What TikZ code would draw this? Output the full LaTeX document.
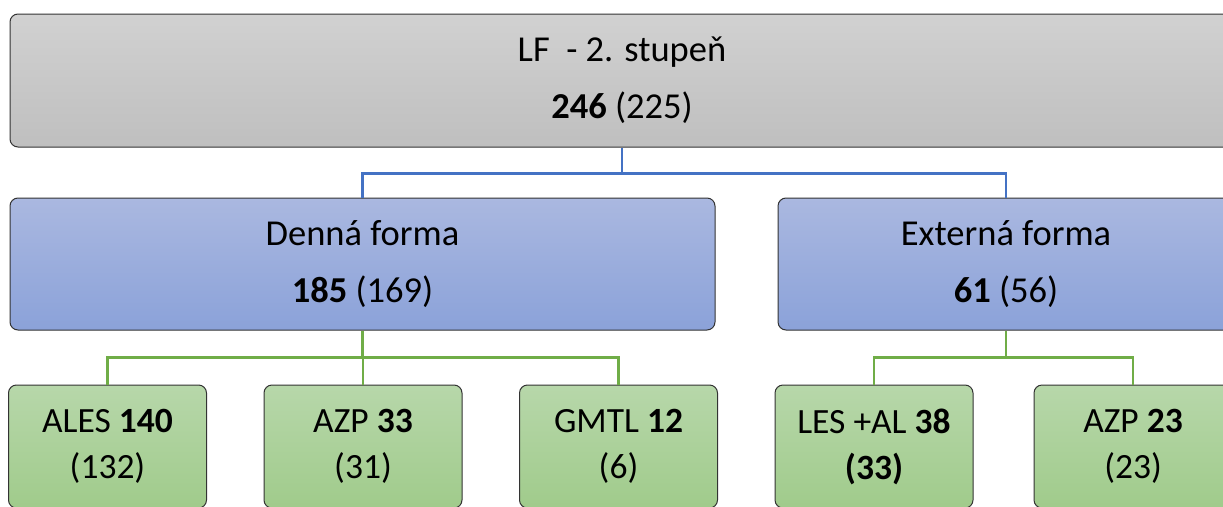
\documentclass[tikz,border=0pt]{standalone}
\usepackage{fontspec}
\setmainfont{Carlito}
\definecolor{boxGrayTop}{RGB}{209, 209, 209}
\definecolor{boxGrayBot}{RGB}{191, 191, 191}
\definecolor{boxBlueTop}{RGB}{170, 184, 224}
\definecolor{boxBlueBot}{RGB}{139, 162, 217}
\definecolor{boxGreenTop}{RGB}{183, 215, 170}
\definecolor{boxGreenBot}{RGB}{160, 203, 139}
\definecolor{lineBlue}{RGB}{68, 114, 196}
\definecolor{lineGreen}{RGB}{112, 173, 71}
\usetikzlibrary{positioning}

\begin{document}
\begin{tikzpicture}[x=1pt, y=-1pt,
    orgbox/.style={rectangle, rounded corners=8pt, draw=black!80, line width=1pt, align=center, inner sep=0pt},
    headbox/.style={orgbox, top color=boxGrayTop, bottom color=boxGrayBot, minimum height=133pt, font=\fontsize{36.5}{57}\selectfont},
    formbox/.style={orgbox, top color=boxBlueTop, bottom color=boxBlueBot, minimum height=132pt, font=\fontsize{36.5}{57}\selectfont},
    progbox/.style={orgbox, top color=boxGreenTop, bottom color=boxGreenBot, minimum width=198pt, minimum height=123pt, font=\fontsize{35.5}{46}\selectfont},
    bluelink/.style={draw=lineBlue, line width=2.4pt},
    greenlink/.style={draw=lineGreen, line width=2.4pt}]
    \useasboundingbox (0,0) rectangle (1223,506);
    \clip (0,0) rectangle (1223,506);

    % top level
    \node[headbox, minimum width=1224pt] (lf) at (622,80.5) {LF\ \ - 2. stupeň\\\textbf{246} (225)};

    % study forms
    \node[formbox, minimum width=705pt] (denna) at (362.5,264) {Denná forma\\\textbf{185} (169)};
    \node[formbox, minimum width=456pt] (externa) at (1006,264) {Externá forma\\\textbf{61} (56)};

    % programmes
    \node[progbox] (ales) at (107.5,446.5) {ALES \textbf{140}\\(132)};
    \node[progbox] (azpd) at (363,446.5) {AZP \textbf{33}\\(31)};
    \node[progbox] (gmtl) at (618.5,446.5) {GMTL \textbf{12}\\(6)};
    \node[progbox] (lesal) at (874,446.5) {LES +AL \textbf{38}\\\textbf{(33)}};
    \node[progbox] (azpe) at (1133,446.5) {AZP \textbf{23}\\(23)};

    \draw[bluelink] (lf.south) -- ++(0,26) -| (denna.north);
    \draw[bluelink] (lf.south) -- ++(0,26) -| (externa.north);

    \draw[greenlink] (denna.south) -- ++(0,27) -| (ales.north);
    \draw[greenlink] (denna.south) -- ++(0,27) -| (azpd.north);
    \draw[greenlink] (denna.south) -- ++(0,27) -| (gmtl.north);
    \draw[greenlink] (externa.south) -- ++(0,27) -| (lesal.north);
    \draw[greenlink] (externa.south) -- ++(0,27) -| (azpe.north);
\end{tikzpicture}
\end{document}
